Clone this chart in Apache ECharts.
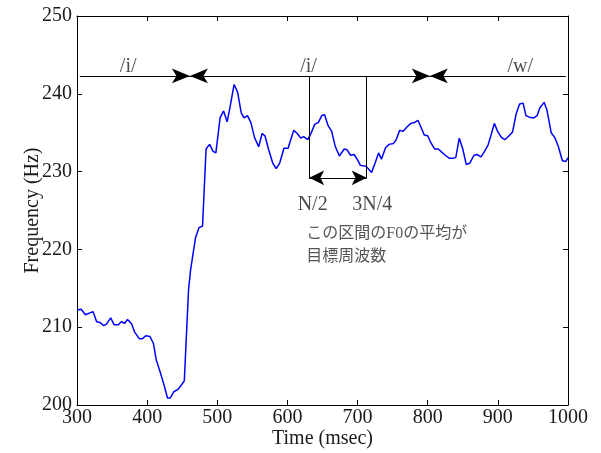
<!DOCTYPE html>
<html>
<head>
<meta charset="utf-8">
<script src="https://cdn.jsdelivr.net/npm/echarts@6/dist/echarts.min.js"></script>
<style>
  html, body { margin: 0; padding: 0; background: #fff; }
  #chart { width: 601px; height: 453px; }
</style>
</head>
<body>
<div id="chart"></div>
<script>
// F0 contour (msec, Hz)
const timeMs = [
  300, 306, 312, 323, 328, 333, 338, 342, 348, 353, 359, 363, 368, 372, 378, 382, 389, 393, 398, 404,
  409, 413, 419, 424, 429, 433, 438, 444, 449, 453, 459, 462, 469, 474, 479, 484, 489, 494, 498, 504,
  509, 514, 518, 524, 529, 534, 538, 543, 548, 553, 559, 564, 568, 573, 579, 584, 589, 595, 601, 604,
  609, 614, 619, 623, 629, 634, 639, 644, 649, 653, 658, 663, 668, 674, 681, 685, 690, 695, 700, 704,
  712, 715, 720, 725, 730, 734, 740, 745, 751, 755, 760, 765, 770, 776, 781, 786, 790, 795, 800, 804,
  810, 815, 820, 825, 831, 835, 840, 845, 850, 855, 860, 866, 870, 876, 881, 886, 890, 895, 900, 905,
  910, 916, 921, 926, 931, 936, 940, 945, 951, 956, 960, 966, 970, 976, 981, 986, 992, 997, 1000
];
const f0Hz = [
  212.2, 212.3, 211.6, 212.0, 210.7, 210.6, 210.2, 210.4, 211.2, 210.3, 210.3, 210.7, 210.5, 211.0, 210.4, 209.4, 208.5, 208.5, 208.9, 208.8,
  207.9, 205.8, 204.1, 202.6, 200.9, 200.9, 201.7, 202.0, 202.6, 203.1, 214.8, 217.4, 221.5, 222.8, 223.0, 232.9, 233.5, 232.6, 232.4, 236.9,
  237.8, 236.4, 238.2, 241.2, 240.2, 237.6, 236.9, 237.2, 236.3, 234.4, 233.2, 234.9, 234.6, 232.9, 231.1, 230.4, 231.1, 233.0, 233.0, 233.9,
  235.3, 234.9, 234.3, 234.5, 234.1, 235.0, 236.1, 236.3, 237.2, 237.3, 235.9, 235.2, 233.3, 232.0, 232.9, 232.8, 232.1, 232.2, 231.5, 230.8,
  230.7, 230.4, 229.9, 231.1, 232.4, 231.6, 233.1, 233.5, 233.6, 234.1, 235.3, 235.2, 235.7, 236.2, 236.3, 236.6, 235.8, 234.7, 234.6, 233.8,
  232.9, 232.9, 232.5, 232.1, 231.7, 231.7, 231.8, 234.3, 232.9, 230.9, 231.1, 232.1, 232.2, 231.9, 232.6, 233.4, 234.6, 236.2, 235.1, 234.4,
  234.1, 234.6, 235.1, 237.4, 238.7, 238.8, 237.2, 237.0, 236.9, 237.2, 238.2, 238.9, 237.9, 235.0, 234.4, 233.3, 231.4, 231.3, 231.8
];

// Segment boundaries (msec) for /i/ /i/ /w/ and the level of the bracket line (Hz)
const segmentBounds = [304, 461, 803, 997];
const segmentLevel = 242.3;
const phoneLabels = ['/i/', '/i/', '/w/'];
const phoneLabelTime = [373, 630, 932];
const phoneLabelLevel = 243.5;

// Averaging window: N/2 .. 3N/4 of the middle segment
const windowBounds = [631, 713];
const windowLevel = 229.2;
const windowLabels = ['N/2', '3N/4'];
const windowLabelTime = [636, 721];
const windowLabelLevel = 225.7;

// Note under the window
const noteLines = ['この区間のF0の平均が', '目標周波数'];
const noteTime = 627;
const noteLevels = [222.0, 219.0];

const serif = '"Liberation Serif", "Times New Roman", "Noto Sans CJK JP", serif';
const ink = '#1a1a1a';

const f0Data = timeMs.map((t, i) => [t, f0Hz[i]]);

const arrowLine = { color: '#000', width: 1, type: 'solid' };
const bigHead = [11, 18];
const smallHead = [11, 15];

const chart = echarts.init(document.getElementById('chart'), null, { renderer: 'canvas' });

const axisCommon = {
  axisLine: { show: true, lineStyle: { color: '#000', width: 1 } },
  axisTick: { show: true, inside: true, length: 5, lineStyle: { color: '#000', width: 1 } },
  splitLine: { show: false }
};

chart.setOption({
  backgroundColor: '#fff',
  animation: false,
  grid: { left: 77, right: 33, top: 16, bottom: 48, containLabel: false, outerBoundsMode: 'none' },
  xAxis: [
    Object.assign({
      type: 'value', min: 300, max: 1000, interval: 100, position: 'bottom',
      name: 'Time (msec)', nameLocation: 'middle', nameGap: 24, nameMoveOverlap: false,
      nameTextStyle: { fontFamily: serif, fontSize: 20, color: ink },
      axisLabel: { fontFamily: serif, fontSize: 20, color: ink, margin: 3, formatter: v => String(v) }
    }, axisCommon),
    Object.assign({
      type: 'value', min: 300, max: 1000, interval: 100, position: 'top',
      axisLabel: { show: false }
    }, axisCommon)
  ],
  yAxis: [
    Object.assign({
      type: 'value', min: 200, max: 250, interval: 10, position: 'left',
      name: 'Frequency (Hz)', nameLocation: 'middle', nameGap: 34, nameMoveOverlap: false,
      nameTextStyle: { fontFamily: serif, fontSize: 20, color: ink },
      axisLabel: { fontFamily: serif, fontSize: 20, color: ink, margin: 5, formatter: v => String(v) }
    }, axisCommon),
    Object.assign({
      type: 'value', min: 200, max: 250, interval: 10, position: 'right',
      axisLabel: { show: false }
    }, axisCommon)
  ],
  series: [
    {
      name: 'F0',
      type: 'line',
      data: f0Data,
      showSymbol: false,
      symbol: 'none',
      lineStyle: { color: '#0000ff', width: 1.5 },
      z: 3
    },
    {
      // segment brackets, window edges and the window arrow
      name: 'annotations',
      type: 'line',
      data: [],
      markLine: {
        silent: true,
        animation: false,
        label: { show: false },
        lineStyle: arrowLine,
        emphasis: { disabled: true },
        data: [
          [{ coord: [segmentBounds[0], segmentLevel], symbol: 'none' },
           { coord: [segmentBounds[1], segmentLevel], symbol: 'arrow', symbolSize: bigHead }],
          [{ coord: [segmentBounds[1], segmentLevel], symbol: 'arrow', symbolSize: bigHead },
           { coord: [segmentBounds[2], segmentLevel], symbol: 'arrow', symbolSize: bigHead }],
          [{ coord: [segmentBounds[2], segmentLevel], symbol: 'arrow', symbolSize: bigHead },
           { coord: [segmentBounds[3], segmentLevel], symbol: 'none' }],
          [{ coord: [windowBounds[0], segmentLevel], symbol: 'none' },
           { coord: [windowBounds[0], windowLevel], symbol: 'none' }],
          [{ coord: [windowBounds[1], segmentLevel], symbol: 'none' },
           { coord: [windowBounds[1], windowLevel], symbol: 'none' }],
          [{ coord: [windowBounds[0], windowLevel], symbol: 'arrow', symbolSize: smallHead },
           { coord: [windowBounds[1], windowLevel], symbol: 'arrow', symbolSize: smallHead }]
        ]
      }
    },
    {
      name: 'labels',
      type: 'scatter',
      symbolSize: 0,
      silent: true,
      data: phoneLabels.map((s, i) => [phoneLabelTime[i], phoneLabelLevel, s])
        .concat(windowLabels.map((s, i) => [windowLabelTime[i], windowLabelLevel, s])),
      label: {
        show: true, position: 'inside', formatter: p => p.data[2],
        fontFamily: serif, fontSize: 20, color: ink
      }
    },
    {
      name: 'note',
      type: 'scatter',
      symbolSize: 0,
      silent: true,
      data: noteLines.map((s, i) => [noteTime, noteLevels[i], s]),
      label: {
        show: true, position: 'right', distance: 0, formatter: p => p.data[2],
        fontFamily: serif, fontSize: 16, color: '#2a2a2a'
      }
    }
  ]
});
</script>
</body>
</html>
